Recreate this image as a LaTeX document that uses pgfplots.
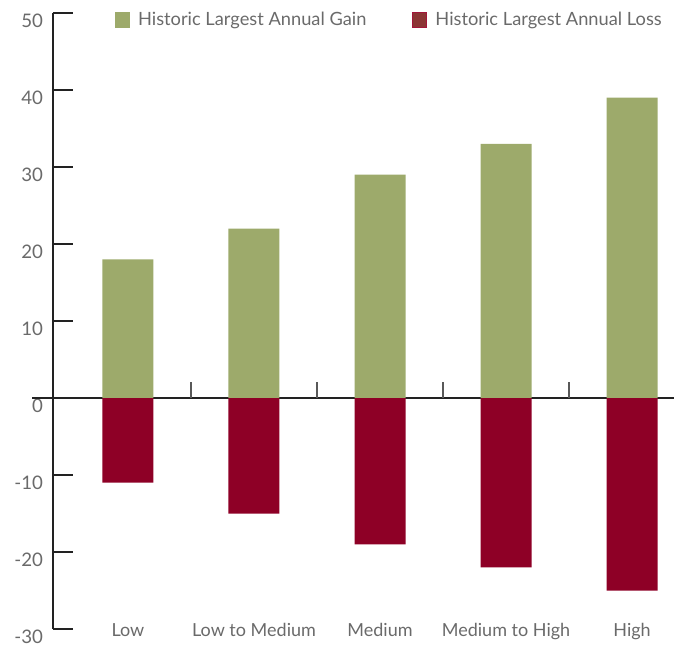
\documentclass[border=0pt]{standalone}
\usepackage{pgfplots}
\pgfplotsset{compat=1.18}
\usepackage{fontspec}
\setmainfont{Lato}
\definecolor{gain}{HTML}{9DAA6B}
\definecolor{loss}{HTML}{8E0026}
\definecolor{losslg}{HTML}{8C3535}
\definecolor{lossbd}{HTML}{A3153A}
\definecolor{txt}{HTML}{6A6A6A}
\definecolor{axl}{HTML}{222222}
\begin{document}
\begin{tikzpicture}
\begin{axis}[name=ax,
  width=465.75pt, height=462pt, scale only axis, clip=false,
  xmin=-0.595, xmax=4.333, ymin=-30, ymax=50,
  axis y line*=left, axis x line*=middle,
  axis line style={axl, line width=0.9pt},
  hide obscured y ticks=false, hide obscured x ticks=false,
  ytick={-30,-20,...,50},
  yticklabel style={yshift=-6pt, xshift=-4pt, font=\fontsize{14}{16}\selectfont, text=txt},
  /pgf/number format/assume math mode=true,
  tick align=inside,
  major tick length=15pt,
  y tick style={axl, line width=0.9pt},
  xtick=\empty,
  ybar, bar width=38.25pt,
  legend columns=2,
  legend style={at={(axis description cs:0,1)}, anchor=west, xshift=43.5pt, yshift=-5.25pt,
    draw=none, fill=none, font=\fontsize{13.7}{16}\selectfont, text=txt,
    /tikz/every odd column/.style={column sep=4pt},
    /tikz/every even column/.style={column sep=32.5pt}},
  legend image code/.code={\draw[#1] (0pt,-5.6pt) rectangle (10.5pt,5.6pt);},
]
\addplot[draw=none, fill=gain, bar shift=0pt, forget plot] coordinates {(0,18) (1,22) (2,29) (3,33) (4,39)};
\addplot[draw=none, fill=loss, bar shift=0pt, forget plot] coordinates {(0,-11) (1,-15) (2,-19) (3,-22) (4,-25)};
\addlegendimage{fill=gain, draw=gain, line width=0.6pt}
\addlegendentry{Historic Largest Annual Gain}
\addlegendimage{fill=losslg, draw=lossbd, line width=0.8pt}
\addlegendentry{Historic Largest Annual Loss}
\draw[axl, line width=0.9pt] (axis cs:-0.595,0) -- ([xshift=-15.75pt]axis cs:-0.595,0);
\foreach \t in {0.5,1.5,2.5,3.5}{
  \edef\tmp{\noexpand\draw[black!65, line width=0.9pt] (axis cs:\t,0) -- ([yshift=12pt]axis cs:\t,0);}\tmp
}
\foreach \k/\lab in {0/Low,1/Low to Medium,2/Medium,3/Medium to High,4/High}{
  \edef\tmp{\noexpand\node[anchor=base, yshift=-5.8pt, font=\noexpand\fontsize{13.5}{15}\noexpand\selectfont, text=txt] at (axis cs:\k,-30) {\lab};}\tmp
}
\end{axis}
\pgfresetboundingbox
\path[use as bounding box] ([shift={(-39.75pt,-11.25pt)}]ax.south west) rectangle ([shift={(5.25pt,9.75pt)}]ax.north east);
\end{tikzpicture}
\end{document}
